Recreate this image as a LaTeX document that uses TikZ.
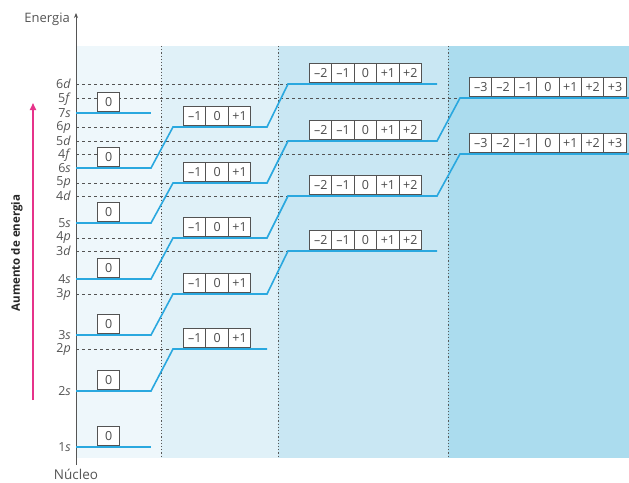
\documentclass[tikz,border=0pt]{standalone}
\usepackage{fontspec}
\setmainfont{Open Sans}
\usetikzlibrary{arrows.meta}
\definecolor{pA}{HTML}{EEF7FB}
\definecolor{pB}{HTML}{E0F1F8}
\definecolor{pC}{HTML}{C9E7F3}
\definecolor{pD}{HTML}{ABDCEE}
\definecolor{lvlblue}{HTML}{2AA8DF}
\definecolor{pinkarrow}{HTML}{E6338A}
\definecolor{axisgray}{HTML}{555555}
\newcommand\orbrow[4]{\foreach \t [count=\i] in {#4}{\node[cell,anchor=south west] (#1-\i) at ({#2+(\i-1)*22.4},{#3-1}) {\t};}}
\begin{document}
\begin{tikzpicture}[x=1pt,y=-1pt,
  cell/.style={draw=gray!65!black,fill=white,line width=1pt,minimum width=22.4pt,minimum height=19.5pt,inner sep=0pt,text=gray!60!black,font=\fontsize{12.5}{12.5}\selectfont},
  lvllab/.style={anchor=east,inner sep=0pt,text=axisgray,font=\fontsize{12.5}{12.5}\selectfont},
  lvlline/.style={draw=lvlblue,line width=1.6pt},
  guide/.style={draw=gray!65!black,line width=0.8pt,dash pattern=on 3pt off 3pt},
  vdot/.style={draw=gray!70!black,line width=1pt,dash pattern=on 1.2pt off 2pt}]
\useasboundingbox (0,0) rectangle (629,482);
\fill[white] (0,0) rectangle (629,482);
% panels
\fill[pA] (76,46) rectangle (161,458);
\fill[pB] (161,46) rectangle (278,458);
\fill[pC] (278,46) rectangle (448,458);
\fill[pD] (448,46) rectangle (629,458);
% guide dashed lines
\foreach \y in {349,294,238,183,127} \draw[guide] (76,\y) -- (173,\y);
\foreach \y in {251,196,141,84} \draw[guide] (76,\y) -- (288,\y);
\foreach \y in {154,98} \draw[guide] (76,\y) -- (460,\y);
% dotted separators
\foreach \x in {161,278,448} \draw[vdot] (\x,46) -- (\x,458);
% axis
\coordinate (axbot) at (76,465);
\coordinate (axtop) at (76,13);
\draw[draw=axisgray,line width=1pt,-{Stealth[length=5pt,width=4pt]}] (axbot) -- (axtop);
\node[anchor=east,inner sep=0pt,text=axisgray,font=\fontsize{13}{13}\selectfont] (energia) at (70,19) {Energia};
\node[inner sep=0pt,text=axisgray,font=\fontsize{13.5}{13.5}\selectfont] (nucleo) at (76,474) {Núcleo};
% level axis points
\foreach \n/\y in {1s/447,2s/391,3s/335,4s/279,5s/223,6s/168,7s/113}
  \coordinate (ax\n) at (76,\y);
% energy staircases
\draw[lvlline] (ax1s) -- (151,447);
\draw[lvlline] (ax2s) -- (151,391) -- (173,349) -- (267,349);
\draw[lvlline] (ax3s) -- (151,335) -- (173,294) -- (267,294) -- (288,251) -- (437,251);
\draw[lvlline] (ax4s) -- (151,279) -- (173,238) -- (267,238) -- (288,196) -- (437,196) -- (460,154) -- (629,154);
\draw[lvlline] (ax5s) -- (151,223) -- (173,183) -- (267,183) -- (288,141) -- (437,141) -- (460,98) -- (629,98);
\draw[lvlline] (ax6s) -- (151,168) -- (173,127) -- (267,127) -- (288,84) -- (437,84);
\draw[lvlline] (ax7s) -- (151,113);
% level labels
\foreach \d/\l/\y in {6/d/84,5/f/99,7/s/113,6/p/127,5/d/141,4/f/155,6/s/168,5/p/183,4/d/196,5/s/223,4/p/238,3/d/251,4/s/279,3/p/294,3/s/335,2/p/349,2/s/391,1/s/447}
  \node[lvllab] (lab\d\l) at (71,\y) {\d\textit{\l}};
% orbital boxes
\foreach \n/\y in {1/447,2/391,3/335,4/279,5/223,6/168,7/113}
  {\orbrow{s\n}{97}{\y}{0}}
\foreach \n/\y in {2/349,3/294,4/238,5/183,6/127}
  {\orbrow{p\n}{183}{\y}{–1,0,+1}}
\foreach \n/\y in {3/251,4/196,5/141,6/84}
  {\orbrow{d\n}{309}{\y}{–2,–1,0,+1,+2}}
\foreach \n/\y in {4/154,5/98}
  {\orbrow{f\n}{469}{\y}{–3,–2,–1,0,+1,+2,+3}}
% energy increase arrow
\coordinate (pinkbot) at (33,400);
\coordinate (pinktop) at (33,103);
\draw[draw=pinkarrow,line width=1.6pt,-{Triangle[length=7pt,width=6pt]}] (pinkbot) -- (pinktop);
\node[rotate=90,inner sep=0pt,text=black!85,font=\bfseries\fontsize{11.5}{11.5}\selectfont] (aumento) at (17,253) {Aumento de energia};
\end{tikzpicture}
\end{document}
